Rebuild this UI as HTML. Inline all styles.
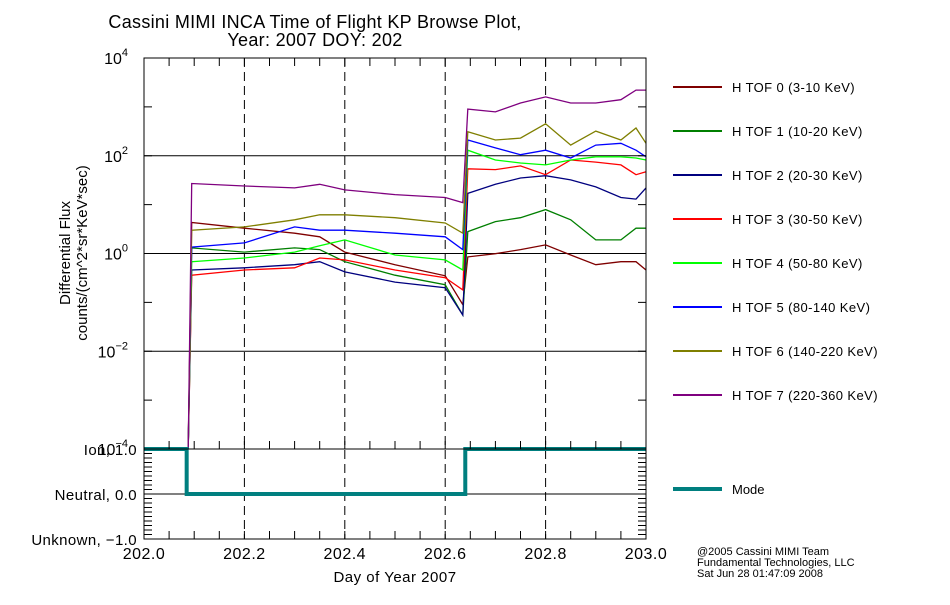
<!DOCTYPE html>
<html><head><meta charset="utf-8"><style>
body{margin:0;background:#fff}
svg text{font-family:"Liberation Sans","DejaVu Sans",sans-serif;fill:#000}
</style></head><body>
<svg id="c" width="950" height="600" viewBox="0 0 950 600">
<text x="315" y="28" font-size="18" text-anchor="middle" letter-spacing="0.3">Cassini MIMI INCA Time of Flight KP Browse Plot,</text>
<text x="315" y="46" font-size="18" text-anchor="middle" letter-spacing="0.3">Year: 2007 DOY: 202</text>
<g id="grid"></g><g id="series"></g><g id="axes"></g><g id="legend"></g>
<text transform="translate(70,253) rotate(-90)" font-size="15" text-anchor="middle">Differential Flux</text>
<text transform="translate(87,253) rotate(-90)" font-size="15" text-anchor="middle">counts/(cm^2*sr*KeV*sec)</text>
<text x="395" y="582" font-size="15" text-anchor="middle" letter-spacing="0.5">Day of Year 2007</text>
<text x="697" y="555" font-size="11">@2005 Cassini MIMI Team</text>
<text x="697" y="566" font-size="11">Fundamental Technologies, LLC</text>
<text x="697" y="577" font-size="11">Sat Jun 28 01:47:09 2008</text>
</svg>
<script>
const times=[202.088,202.095,202.2,202.3,202.35,202.4,202.5,202.6,202.635,202.645,202.7,202.75,202.8,202.85,202.9,202.95,202.98,203.0];
const tof0=[1e-4,4.3,3.3,2.6,2.2,1.07,0.59,0.35,0.09,0.85,0.99,1.2,1.5,0.93,0.59,0.68,0.68,0.46];
const tof1=[1e-4,1.3,1.07,1.3,1.2,0.68,0.36,0.23,0.055,2.8,4.5,5.4,7.9,4.9,1.9,1.9,3.3,3.3];
const tof2=[1e-4,0.46,0.51,0.59,0.68,0.42,0.26,0.2,0.055,17,26,35,39,32,23,14,13,22];
const tof3=[1e-4,0.36,0.46,0.51,0.81,0.74,0.46,0.32,0.18,54,52,62,41,82,74,65,41,47];
const tof4=[1e-4,0.68,0.81,1.07,1.44,1.9,0.93,0.74,0.46,130,82,71,65,82,95,95,90,82];
const tof5=[1e-4,1.35,1.65,3.5,3.0,3.0,2.6,2.2,1.2,210,145,105,130,90,165,180,130,95];
const tof6=[1e-4,3.0,3.5,4.9,6.2,6.2,5.4,4.2,2.6,310,210,230,450,165,320,210,370,180];
const tof7=[1e-4,27,24,22,26,20,16,14,11,900,790,1200,1600,1200,1200,1400,2200,2200];
const seriesNames=["H TOF 0 (3-10 KeV)","H TOF 1 (10-20 KeV)","H TOF 2 (20-30 KeV)","H TOF 3 (30-50 KeV)","H TOF 4 (50-80 KeV)","H TOF 5 (80-140 KeV)","H TOF 6 (140-220 KeV)","H TOF 7 (220-360 KeV)"];
const modeT=[202.0,202.085,202.64,203.0];
const modeV=[1,0,1,1];
const xTicks=[202.0,202.2,202.4,202.6,202.8,203.0];
const xTickLabels=["202.0","202.2","202.4","202.6","202.8","203.0"];
const yExp=[4,2,0,-2,-4];
const modeLabels=["Ion, 1.0","Neutral, 0.0","Unknown, \u22121.0"];
const modeTicks=[1,0,-1];

const colors=["#7f0000","#007f00","#00007f","#ff0000","#00ff00","#0000ff","#7f7f00","#7f007f"];
const L=144,R=646,T=58,B=449,MB=539;
const NS="http://www.w3.org/2000/svg";
const X=t=>L+(t-202)*(R-L);
const Y=v=>{const lv=Math.max(-4,Math.min(4,Math.log10(v)));return T+(4-lv)/8*(B-T);};
const MY=m=>B+(1-m)/2*(MB-B);
function mk(tag,attrs,parent){const e=document.createElementNS(NS,tag);for(const k in attrs)e.setAttribute(k,attrs[k]);parent.appendChild(e);return e;}
const grid=document.getElementById('grid'),axes=document.getElementById('axes'),ser=document.getElementById('series'),leg=document.getElementById('legend');
[2,0,-2].forEach(e=>{const l=mk('line',{x1:L,x2:R,y1:Y(Math.pow(10,e)),y2:Y(Math.pow(10,e)),stroke:'#000','stroke-width':1},grid);

});
const mg=mk('line',{x1:L,x2:R,y1:MY(0),y2:MY(0),stroke:'#000'},grid);


[202.2,202.4,202.6,202.8].forEach(t=>{const l=mk('line',{x1:X(t),x2:X(t),y1:T,y2:MB,stroke:'#000','stroke-dasharray':'9,5'},grid);

});
const all=[tof0,tof1,tof2,tof3,tof4,tof5,tof6,tof7];
all.forEach((vals,i)=>{const d=vals.map((v,j)=>(j?'L':'M')+X(times[j]).toFixed(1)+','+Y(v).toFixed(1)).join('');
const p=mk('path',{d:d,fill:'none',stroke:colors[i],'stroke-width':1.3},ser);

});
let md='M'+X(modeT[0])+','+MY(modeV[0]);
for(let j=1;j<modeT.length;j++){md+='L'+X(modeT[j])+','+MY(modeV[j-1])+'L'+X(modeT[j])+','+MY(modeV[j]);}
const mp=mk('path',{d:md,fill:'none',stroke:'#007f7f','stroke-width':4},ser);


const f1=mk('rect',{x:L,y:T,width:R-L,height:B-T,fill:'none',stroke:'#000'},axes);


const f2=mk('rect',{x:L,y:B,width:R-L,height:MB-B,fill:'none',stroke:'#000'},axes);


let tk='';
for(let t=202;t<=203.001;t+=0.05){const x=X(t);tk+=`M${x},${T}v8M${x},${B}v-8M${x},${MB}v-8`;}
for(let e=-4;e<=4;e++){const y=Y(Math.pow(10,e));tk+=`M${L},${y}h8M${R},${y}h-8`;}
for(let m=-1;m<=1.001;m+=0.1){const y=MY(m);tk+=`M${L},${y}h8M${R},${y}h-8`;}
const tp=mk('path',{d:tk,stroke:'#000','stroke-width':1,fill:'none'},axes);


xTicks.forEach((t,i)=>{const tx=mk('text',{x:X(t),y:559,'font-size':16,'text-anchor':'middle','letter-spacing':0.5},axes);tx.textContent=xTickLabels[i];

});
yExp.forEach(e=>{const y=Y(Math.pow(10,e));const tx=mk('text',{x:128,y:y+6,'font-size':16,'text-anchor':'end'},axes);tx.textContent='10';
const s=mk('tspan',{dy:-8,'font-size':11},tx);s.textContent=e<0?'\u2212'+(-e):String(e);

});
modeTicks.forEach((m,i)=>{const tx=mk('text',{x:137,y:MY(m)+6,'font-size':15,'text-anchor':'end','letter-spacing':0.4},axes);tx.textContent=modeLabels[i];

});
seriesNames.forEach((n,i)=>{const y=87+i*44;const g=mk('g',{},leg);


mk('line',{x1:673,x2:722,y1:y,y2:y,stroke:colors[i],'stroke-width':2},g);
const tx=mk('text',{x:732,y:y+5,'font-size':13,'letter-spacing':0.4},g);tx.textContent=n;});
const mg2=mk('g',{},leg);


mk('line',{x1:673,x2:722,y1:489,y2:489,stroke:'#007f7f','stroke-width':4},mg2);
const mt=mk('text',{x:732,y:494,'font-size':13},mg2);mt.textContent='Mode';
</script>
</body></html>
